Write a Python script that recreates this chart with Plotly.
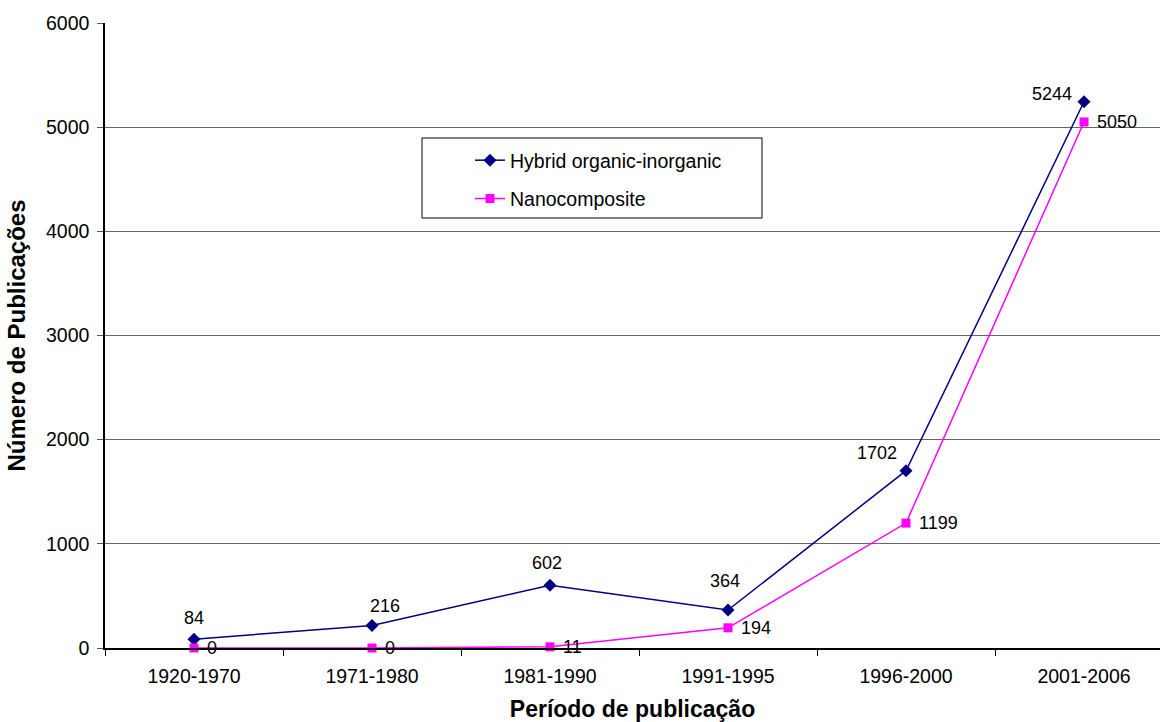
import plotly.graph_objects as go

categories = ["1920-1970", "1971-1980", "1981-1990", "1991-1995", "1996-2000", "2001-2006"]
hybrid = [84, 216, 602, 364, 1702, 5244]
nano = [0, 0, 11, 194, 1199, 5050]
y_ticks = [0, 1000, 2000, 3000, 4000, 5000, 6000]

# label offsets (pixels) - styling only
hyb_dx = [0, 13, -3, -3, -29, -32]
hyb_dy = [21, 20, 22, 29, 18, 8]
nano_dx = 11

FONT = "Arial, Liberation Sans, sans-serif"
W, H = 1160, 722
L, R, T, B = 105, 0, 23, 74
pw, ph = W - L - R, H - T - B

def px_x(p):
    return (p - L) / pw

def px_y(p):
    return (H - B - p) / ph

xs = list(range(len(categories)))

fig = go.Figure()
fig.add_trace(go.Scatter(
    x=xs, y=hybrid, name="Hybrid organic-inorganic", legendgroup="a",
    mode="lines+markers",
    line=dict(color="#000080", width=1.5),
    marker=dict(symbol="diamond", size=10, color="#000080"),
    cliponaxis=False,
))
fig.add_trace(go.Scatter(
    x=xs, y=nano, name="Nanocomposite", legendgroup="b",
    mode="lines+markers",
    line=dict(color="#FF00FF", width=1.5),
    marker=dict(symbol="square", size=9, color="#FF00FF"),
    cliponaxis=False,
))

annotations = []
for i, v in enumerate(hybrid):
    annotations.append(dict(
        x=xs[i], y=v, xref="x", yref="y", text=str(v), showarrow=False,
        xanchor="center", yanchor="middle", xshift=hyb_dx[i], yshift=hyb_dy[i],
        font=dict(family=FONT, size=18, color="black"),
    ))
for i, v in enumerate(nano):
    annotations.append(dict(
        x=xs[i], y=v, xref="x", yref="y", text=str(v), showarrow=False,
        xanchor="left", yanchor="middle", xshift=nano_dx, yshift=0,
        font=dict(family=FONT, size=18, color="black"),
    ))

fig.update_layout(
    width=W, height=H,
    margin=dict(l=L, r=R, t=T, b=B, pad=0, autoexpand=False),
    paper_bgcolor="white", plot_bgcolor="white",
    font=dict(family=FONT, size=19, color="black"),
    showlegend=True,
    legend=dict(
        x=px_x(470), y=px_y(141), xanchor="left", yanchor="top",
        bgcolor="rgba(0,0,0,0)", borderwidth=0,
        font=dict(family=FONT, size=19.5, color="black"),
        traceorder="grouped", tracegroupgap=10,
    ),
    shapes=[dict(
        type="rect", xref="paper", yref="paper",
        x0=px_x(422), x1=px_x(762), y0=px_y(218), y1=px_y(138),
        line=dict(color="black", width=1), fillcolor="rgba(0,0,0,0)", layer="below",
    )],
    annotations=annotations,
)

fig.update_xaxes(
    range=[-0.5, -0.5 + pw / 178.0],
    tickvals=xs, ticktext=categories, ticks="",
    tickfont=dict(family=FONT, size=19.5, color="black"),
    ticklabelstandoff=10,
    showline=True, linecolor="black", linewidth=1.5,
    showgrid=False, zeroline=False, automargin=False,
    minor=dict(tickvals=[i + 0.5 for i in range(-1, len(categories))],
               ticks="outside", ticklen=6, tickcolor="black", tickwidth=1, showgrid=False),
    title=dict(text="<b>Período de publicação</b>", font=dict(family=FONT, size=23, color="black"), standoff=16),
)
fig.update_yaxes(
    range=[0, 6000], tickvals=y_ticks,
    ticks="outside", ticklen=6, tickcolor="#555555",
    tickfont=dict(family=FONT, size=19.5, color="black"),
    ticklabelstandoff=4,
    showline=True, linecolor="black", linewidth=1.5,
    showgrid=True, gridcolor="#666666", gridwidth=1,
    zeroline=False, automargin=False,
    title=dict(text="<b>Número de Publicações</b>", font=dict(family=FONT, size=24, color="black"), standoff=14),
)

fig.write_html(
    "out.html",
    config={"displayModeBar": False},
    post_script="document.body.style.margin='0';document.body.style.padding='0';document.body.style.overflow='hidden';",
)
